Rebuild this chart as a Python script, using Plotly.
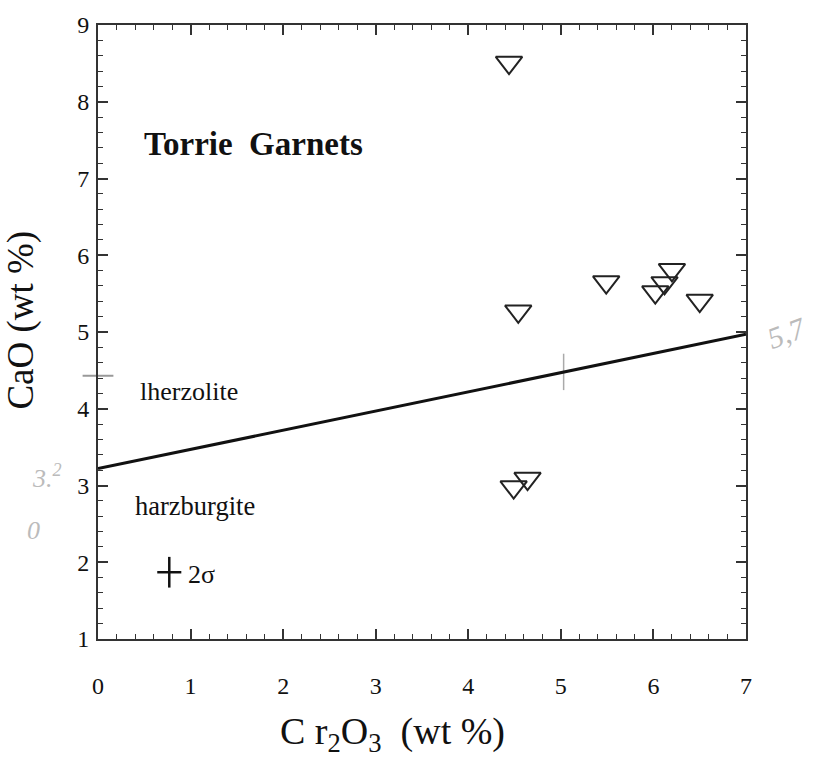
import plotly.graph_objects as go

# Data
cr2o3 = [4.44, 4.54, 5.49, 6.02, 6.12, 6.20, 6.50, 4.49, 4.64]
cao = [8.51, 5.27, 5.65, 5.52, 5.64, 5.81, 5.41, 2.98, 3.09]

line_x = [0, 7]
line_y = [3.22, 4.97]

sigma_x = [0.77]
sigma_y = [1.87]
sigma_ex = [0.13]
sigma_ey = [0.20]

# faint pencil marks on the scan
pencil_h_x = [0.0]
pencil_h_y = [4.43]
pencil_v_x = [5.03]
pencil_v_y = [4.48]

x_ticks = [0, 1, 2, 3, 4, 5, 6, 7]
y_ticks = [1, 2, 3, 4, 5, 6, 7, 8, 9]

FONT = "Liberation Serif, Times New Roman, serif"

fig = go.Figure()

fig.add_trace(go.Scatter(
    x=pencil_h_x, y=pencil_h_y, mode="markers", cliponaxis=False,
    marker=dict(symbol="line-ew", size=22, line=dict(color="#999", width=2)),
    hoverinfo="skip", showlegend=False))
fig.add_trace(go.Scatter(
    x=pencil_v_x, y=pencil_v_y, mode="markers",
    marker=dict(symbol="line-ns", size=26, line=dict(color="#aaa", width=1.5)),
    hoverinfo="skip", showlegend=False))

fig.add_trace(go.Scatter(
    x=line_x, y=line_y, mode="lines",
    line=dict(color="#111", width=3), hoverinfo="skip", showlegend=False))

fig.add_trace(go.Scatter(
    x=cr2o3, y=cao, mode="markers",
    marker=dict(symbol="triangle-down-open", size=23,
                line=dict(color="#222", width=2), color="#222"),
    showlegend=False))

fig.add_trace(go.Scatter(
    x=sigma_x, y=sigma_y, mode="markers",
    marker=dict(size=1, color="#111", opacity=0),
    error_x=dict(type="data", array=sigma_ex, width=0, thickness=2.5, color="#111"),
    error_y=dict(type="data", array=sigma_ey, width=0, thickness=2.5, color="#111"),
    showlegend=False))

axis_common = dict(
    showline=True, linewidth=2, linecolor="#333", mirror="ticks",
    ticks="inside", ticklen=10, tickwidth=1.6, tickcolor="#333",
    showgrid=False, zeroline=False,
    tickfont=dict(family=FONT, size=24, color="#111"),
    minor=dict(ticks="inside", ticklen=5, tickwidth=1.4, tickcolor="#333",
               dtick=0.2, showgrid=False),
)

fig.update_xaxes(range=[0, 7], tickvals=x_ticks, ticklabelstandoff=24, **axis_common)
fig.update_yaxes(range=[1, 9], tickvals=y_ticks, ticklabelstandoff=2, **axis_common)

annotations = [
    dict(x=0.475, y=7.455, xref="x", yref="y", text="<b>Torrie  Garnets</b>",
         showarrow=False, xanchor="left", yanchor="middle",
         font=dict(family=FONT, size=33, color="#111")),
    dict(x=0.43, y=4.23, xref="x", yref="y", text="lherzolite",
         showarrow=False, xanchor="left", yanchor="middle",
         font=dict(family=FONT, size=26, color="#111")),
    dict(x=0.38, y=2.73, xref="x", yref="y", text="harzburgite",
         showarrow=False, xanchor="left", yanchor="middle",
         font=dict(family=FONT, size=26.5, color="#111")),
    dict(x=0.955, y=1.84, xref="x", yref="y", text="2σ",
         showarrow=False, xanchor="left", yanchor="middle",
         font=dict(family=FONT, size=26, color="#111")),
    dict(x=-0.119, y=0.52, xref="paper", yref="paper", text="CaO (wt %)",
         textangle=-90, showarrow=False, xanchor="center", yanchor="middle",
         font=dict(family=FONT, size=37, color="#111")),
    dict(x=0.455, y=-0.155, xref="paper", yref="paper",
         text="C r<sub>2</sub>O<sub>3</sub>  (wt %)",
         showarrow=False, xanchor="center", yanchor="middle",
         font=dict(family=FONT, size=38, color="#111")),
    # faint handwritten pencil notes
    dict(x=1.105, y=0.5, xref="paper", yref="paper", text="<i>5,7</i>",
         showarrow=False, textangle=-20,
         font=dict(family=FONT, size=30, color="#bbb")),
    dict(x=-0.105, y=0.235, xref="paper", yref="paper", text="<i>3.<sup>2</sup></i>",
         showarrow=False,
         font=dict(family=FONT, size=26, color="#bbb")),
    dict(x=-0.112, y=0.15, xref="paper", yref="paper", text="<i>0</i>",
         showarrow=False,
         font=dict(family=FONT, size=26, color="#bbb")),
]

fig.update_layout(
    width=815, height=758,
    margin=dict(l=98, r=69, t=21, b=119),
    paper_bgcolor="white", plot_bgcolor="white",
    annotations=annotations,
    font=dict(family=FONT),
)

fig.write_html("out.html")
